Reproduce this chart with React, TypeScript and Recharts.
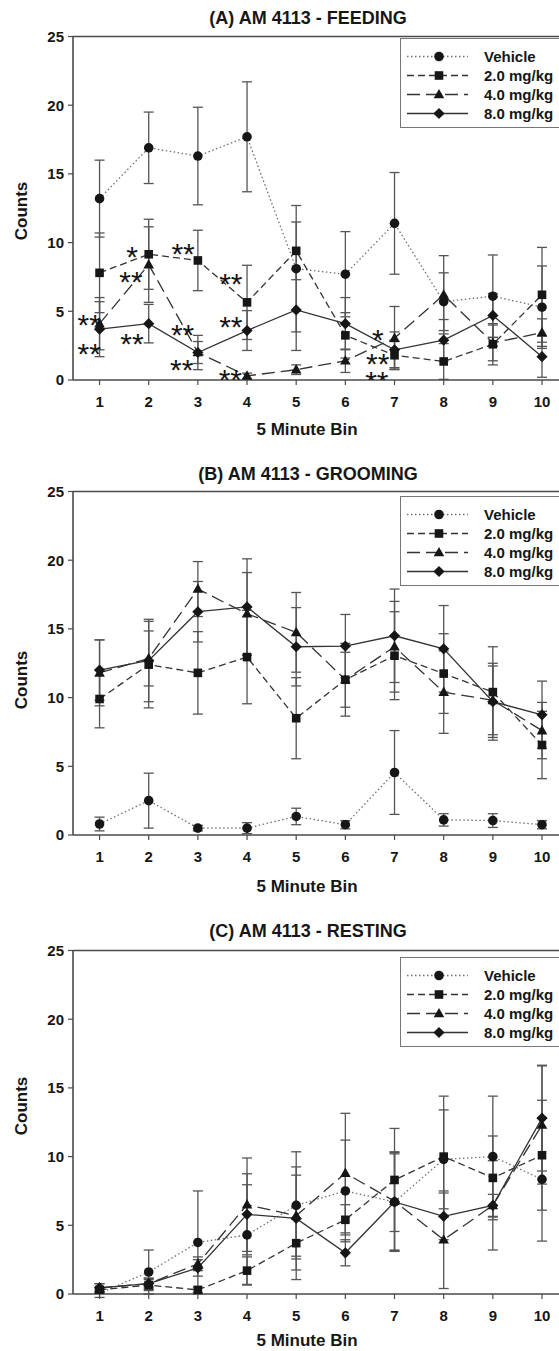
import React from 'react';
import { ComposedChart, Line, Scatter, XAxis, YAxis, ErrorBar, ReferenceLine, Legend } from 'recharts';

const bins = [1, 2, 3, 4, 5, 6, 7, 8, 9, 10];
const yTicks = [0, 5, 10, 15, 20, 25];
const groupNames = ['Vehicle', '2.0 mg/kg', '4.0 mg/kg', '8.0 mg/kg'];

// (A) feeding counts, mean and SEM per 5 minute bin
const feedVehicle = [13.2, 16.9, 16.3, 17.7, 8.1, 7.7, 11.4, 5.7, 6.1, 5.3];
const feedVehicleSem = [2.8, 2.6, 3.55, 4.0, 4.6, 3.1, 3.7, 2.1, 3.0, 3.0];
const feedMg2 = [7.8, 9.15, 8.7, 5.65, 9.4, 3.25, 1.8, 1.35, 2.6, 6.2];
const feedMg2Sem = [2.9, 2.55, 2.2, 2.7, 2.1, 1.65, 1.0, 1.3, 1.5, 3.45];
const feedMg4 = [4.1, 8.4, 2.0, 0.3, 0.75, 1.4, 3.05, 6.2, 2.7, 3.45];
const feedMg4Sem = [1.9, 2.75, 0.8, 0.2, 0.35, 0.85, 2.3, 2.85, 1.3, 1.0];
const feedMg8 = [3.7, 4.1, 2.0, 3.6, 5.1, 4.1, 2.2, 2.9, 4.7, 1.7];
const feedMg8Sem = [2.0, 1.4, 1.25, 1.45, 2.95, 1.9, 1.3, 1.5, 1.6, 1.5];

// (B) grooming
const groomVehicle = [0.8, 2.5, 0.5, 0.5, 1.35, 0.75, 4.55, 1.1, 1.05, 0.75];
const groomVehicleSem = [0.5, 2.0, 0.2, 0.4, 0.6, 0.3, 3.05, 0.45, 0.5, 0.3];
const groomMg2 = [9.9, 12.4, 11.8, 12.95, 8.5, 11.3, 13.05, 11.75, 10.4, 6.55];
const groomMg2Sem = [2.1, 3.15, 3.0, 3.4, 2.95, 2.65, 3.2, 2.9, 3.3, 2.45];
const groomMg4 = [11.8, 12.85, 17.9, 16.1, 14.75, 11.3, 13.7, 10.4, 9.8, 7.6];
const groomMg4Sem = [2.4, 2.0, 2.0, 3.0, 2.9, 2.0, 3.3, 3.0, 2.5, 2.05];
const groomMg8 = [12.0, 12.7, 16.25, 16.6, 13.7, 13.75, 14.5, 13.55, 9.7, 8.75];
const groomMg8Sem = [2.2, 3.0, 2.2, 3.5, 2.85, 2.3, 3.4, 3.15, 2.8, 2.45];

// (C) resting
const restVehicle = [0.05, 1.6, 3.75, 4.3, 6.45, 7.5, 6.7, 9.8, 10.0, 8.35];
const restVehicleSem = [0.3, 1.6, 3.75, 3.65, 3.9, 3.7, 3.6, 3.6, 4.4, 4.5];
const restMg2 = [0.3, 0.65, 0.3, 1.7, 3.7, 5.4, 8.3, 10.0, 8.45, 10.1];
const restMg2Sem = [0.2, 0.4, 0.2, 1.0, 2.65, 1.1, 3.75, 4.4, 3.05, 4.0];
const restMg4 = [0.45, 0.75, 2.2, 6.5, 5.7, 8.8, 6.75, 3.95, 6.45, 12.3];
const restMg4Sem = [0.3, 0.4, 0.5, 3.4, 2.95, 4.35, 3.6, 3.55, 3.25, 4.3];
const restMg8 = [0.45, 0.75, 1.9, 5.8, 5.5, 3.0, 6.7, 5.65, 6.45, 12.8];
const restMg8Sem = [0.3, 0.4, 0.6, 2.95, 3.75, 0.95, 3.5, 1.7, 0.8, 3.85];

// significance marks on the feeding panel
const starBins = [0.79, 0.79, 1.66, 1.64, 1.66, 2.7, 2.69, 2.67, 3.67, 3.67, 3.66, 6.66, 6.66, 6.64];
const starCounts = [4.54, 2.43, 9.47, 7.65, 3.16, 9.71, 3.76, 1.26, 7.48, 4.37, 0.53, 3.45, 1.7, 0.36];
const starMarks = ['**', '**', '*', '**', '**', '**', '**', '**', '**', '**', '**', '*', '**', '**'];

const font = 'Arial, "Liberation Sans", Helvetica, sans-serif';
const ink = '#161616';
const axisGray = '#4a4a4a';

const seriesStyle = [
  { key: 'veh', dash: '1.5 2.5', color: '#707070', shape: 'circle' },
  { key: 'mg2', dash: '7 4', color: '#333', shape: 'square' },
  { key: 'mg4', dash: '13 6', color: '#333', shape: 'triangle' },
  { key: 'mg8', dash: undefined, color: '#333', shape: 'diamond' },
];

function marker(shape: string, cx: number, cy: number) {
  if (shape === 'circle') return <circle cx={cx} cy={cy} r={4.8} fill={ink} />;
  if (shape === 'square') return <rect x={cx - 4.3} y={cy - 4.3} width={8.6} height={8.6} fill={ink} />;
  if (shape === 'triangle')
    return <polygon points={`${cx},${cy - 5.6} ${cx + 5.3},${cy + 3.8} ${cx - 5.3},${cy + 3.8}`} fill={ink} />;
  return <polygon points={`${cx},${cy - 5.6} ${cx + 5.6},${cy} ${cx},${cy + 5.6} ${cx - 5.6},${cy}`} fill={ink} />;
}

function makeRows(v: number[], vS: number[], a: number[], aS: number[], b: number[], bS: number[], c: number[], cS: number[]) {
  return bins.map((bin, i) => ({
    bin,
    veh: v[i], vehSem: vS[i],
    mg2: a[i], mg2Sem: aS[i],
    mg4: b[i], mg4Sem: bS[i],
    mg8: c[i], mg8Sem: cS[i],
  }));
}

const feedRows = makeRows(feedVehicle, feedVehicleSem, feedMg2, feedMg2Sem, feedMg4, feedMg4Sem, feedMg8, feedMg8Sem);
const groomRows = makeRows(groomVehicle, groomVehicleSem, groomMg2, groomMg2Sem, groomMg4, groomMg4Sem, groomMg8, groomMg8Sem);
const restRows = makeRows(restVehicle, restVehicleSem, restMg2, restMg2Sem, restMg4, restMg4Sem, restMg8, restMg8Sem);
const starRows = starBins.map((bin, i) => ({ bin, count: starCounts[i], mark: starMarks[i] }));

const renderLegend = () => (
  <div style={{ width: 200, height: 90, border: '1.2px solid #777', boxSizing: 'border-box', background: '#fff' }}>
    <svg width={200} height={88} style={{ display: 'block' }}>
      {seriesStyle.map((s, i) => {
        const y = 17.5 + i * 19;
        return (
          <g key={s.key}>
            <line x1={6} x2={67} y1={y} y2={y} stroke={s.color} strokeWidth={1.3} strokeDasharray={s.dash} />
            {marker(s.shape, 38, y)}
            <text x={83} y={y} dy="0.36em" fontSize={15} fontWeight={700} fontFamily={font} fill={ink}>
              {groupNames[i]}
            </text>
          </g>
        );
      })}
    </svg>
  </div>
);

const StarMark = (p: any) => (
  <text x={p.cx} y={p.cy + 17} textAnchor="middle" fontSize={30} fontFamily={font} fill={ink}>
    {p.payload.mark}
  </text>
);

const textBase: React.CSSProperties = {
  position: 'absolute',
  fontFamily: font,
  fontWeight: 700,
  color: ink,
  textAlign: 'center',
  height: 22,
  lineHeight: '22px',
  whiteSpace: 'nowrap',
};

function Panel(props: {
  top: number; title: string; titleY: number; binY: number; countsY: number; legendTop: number;
  rows: any[]; stars?: boolean;
}) {
  const { top, title, titleY, binY, countsY, legendTop, rows, stars } = props;
  return (
    <>
      <div style={{ ...textBase, left: 0, width: 616, top: titleY - 11, fontSize: 18 }}>{title}</div>
      <div style={{ ...textBase, left: 0, width: 614, top: binY - 11, fontSize: 17 }}>5 Minute Bin</div>
      <div style={{ ...textBase, left: 22 - 50, width: 100, top: countsY - 11, fontSize: 17, transform: 'rotate(-90deg)' }}>
        Counts
      </div>
      <div style={{ position: 'absolute', left: 0, top }}>
        <ComposedChart width={601} height={440} data={rows} margin={{ top: 36.5, right: 0, bottom: 0, left: 0 }}>
          <XAxis
            type="number"
            dataKey="bin"
            domain={[0.46, 11.2]}
            ticks={bins}
            interval={0}
            allowDataOverflow
            height={60}
            tickSize={5}
            tickMargin={11}
            axisLine={{ stroke: axisGray, strokeWidth: 1.6 }}
            tickLine={{ stroke: axisGray, strokeWidth: 1.2 }}
            tick={{ fill: ink, fontSize: 15, fontWeight: 700, fontFamily: font }}
          />
          <YAxis
            type="number"
            domain={[0, 25]}
            ticks={yTicks}
            interval={0}
            allowDataOverflow
            width={73}
            tickSize={5}
            tickMargin={4}
            axisLine={{ stroke: axisGray, strokeWidth: 1.6 }}
            tickLine={{ stroke: axisGray, strokeWidth: 1.2 }}
            tick={{ fill: ink, fontSize: 15, fontWeight: 700, fontFamily: font }}
          />
          <ReferenceLine y={25} stroke={axisGray} strokeWidth={1.6} />
          <Legend
            content={renderLegend}
            layout="horizontal"
            align="center"
            verticalAlign="middle"
            wrapperStyle={{ left: 400, top: legendTop, width: 200, height: 90 }}
          />
          {seriesStyle.map((s) => (
            <Line
              key={s.key}
              dataKey={s.key}
              stroke={s.color}
              strokeWidth={1.3}
              strokeDasharray={s.dash}
              isAnimationActive={false}
              legendType="none"
              dot={(p: any) => <g key={`${s.key}-${p.index}`}>{marker(s.shape, p.cx, p.cy)}</g>}
              activeDot={false}
            >
              <ErrorBar dataKey={`${s.key}Sem`} direction="y" width={5} stroke="#555" strokeWidth={1.3} isAnimationActive={false} />
            </Line>
          ))}
          {stars && (
            <Scatter data={starRows} dataKey="count" shape={StarMark} isAnimationActive={false} legendType="none" />
          )}
        </ComposedChart>
      </div>
    </>
  );
}

export default function App() {
  return (
    <div style={{ position: 'absolute', left: 0, top: 0, width: 559, height: 1351, overflow: 'hidden', background: '#fff' }}>
      <Panel top={0} title="(A) AM 4113 - FEEDING" titleY={18} binY={430} countsY={211} legendTop={38} rows={feedRows} stars />
      <Panel top={455} title="(B) AM 4113 - GROOMING" titleY={474} binY={887} countsY={680} legendTop={41} rows={groomRows} />
      <Panel top={914} title="(C) AM 4113 - RESTING" titleY={931} binY={1341} countsY={1106} legendTop={43} rows={restRows} />
    </div>
  );
}
